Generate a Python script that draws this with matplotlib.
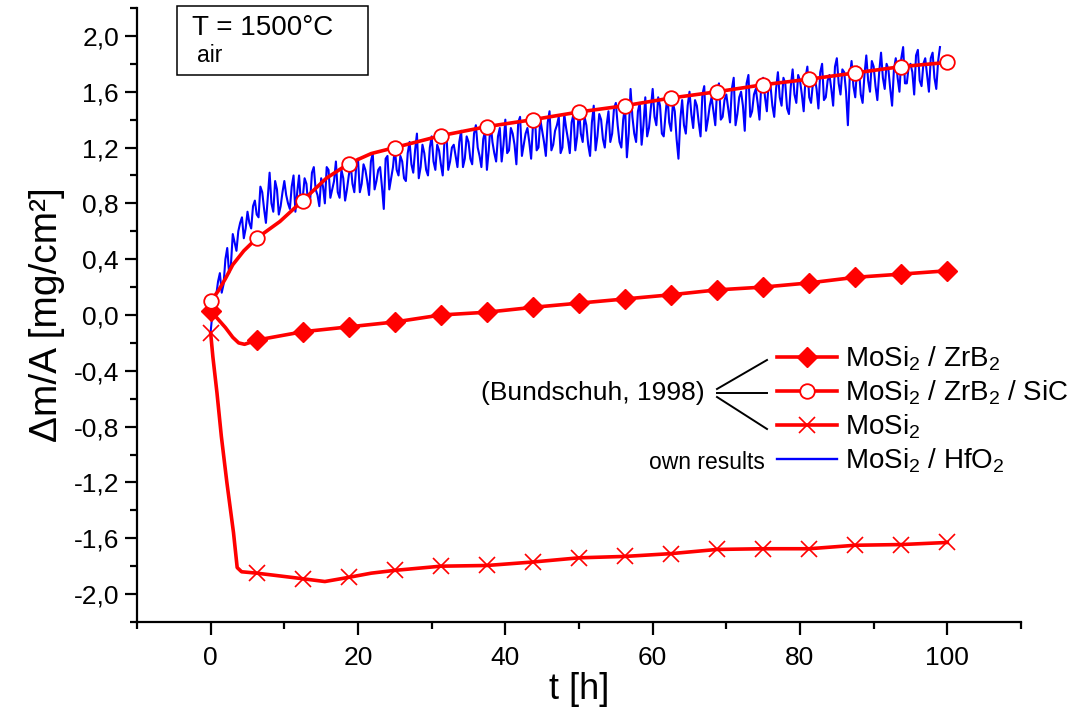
import numpy as np
import matplotlib
matplotlib.use("Agg")
import matplotlib.pyplot as plt
from matplotlib.lines import Line2D
from matplotlib.patches import Rectangle
from matplotlib.ticker import FuncFormatter, FixedLocator

plt.rcParams['font.family'] = ['Liberation Sans', 'DejaVu Sans']
plt.rcParams['mathtext.fontset'] = 'custom'
plt.rcParams['mathtext.rm'] = 'Liberation Sans'
plt.rcParams['mathtext.default'] = 'regular'

# Messpunkte (Bundschuh, 1998) alle 6,25 h
t_mark = [0, 6.25, 12.5, 18.75, 25, 31.25, 37.5, 43.75, 50, 56.25, 62.5, 68.75,
          75, 81.25, 87.5, 93.75, 100]
zrb2_mark = [0.03, -0.18, -0.12, -0.085, -0.05, 0.0, 0.02, 0.055, 0.085, 0.115, 0.145,
             0.18, 0.20, 0.23, 0.27, 0.293, 0.317]
sic_mark = [0.10, 0.55, 0.82, 1.085, 1.20, 1.285, 1.35, 1.40, 1.455, 1.50, 1.555, 1.60,
            1.65, 1.69, 1.735, 1.78, 1.81]
mosi2_mark = [-0.13, -1.85, -1.89, -1.88, -1.83, -1.80, -1.795, -1.77, -1.74, -1.73,
              -1.71, -1.68, -1.675, -1.675, -1.65, -1.645, -1.63]

# Verbindungslinien (mit Zwischenpunkten am Anfang)
t_zrb2_line = [0, 1, 2, 3, 3.8, 4.6, 6.25, 12.5, 18.75, 25, 31.25, 37.5, 43.75, 50,
               56.25, 62.5, 68.75, 75, 81.25, 87.5, 93.75, 100]
zrb2_line = [0.03, -0.03, -0.09, -0.16, -0.20, -0.21, -0.18, -0.12, -0.085, -0.05, 0.0,
             0.02, 0.055, 0.085, 0.115, 0.145, 0.18, 0.20, 0.23, 0.27, 0.293, 0.317]
t_sic_line = [0, 1, 2, 3, 4.5, 6.25, 9.4, 12.5, 15.7, 18.75, 21.8, 25, 31.25, 37.5,
              43.75, 50, 56.25, 62.5, 68.75, 75, 81.25, 87.5, 93.75, 100]
sic_line = [0.10, 0.17, 0.26, 0.36, 0.46, 0.55, 0.67, 0.82, 0.98, 1.085, 1.157, 1.20,
            1.285, 1.35, 1.40, 1.455, 1.50, 1.555, 1.60, 1.65, 1.69, 1.735, 1.78, 1.81]
t_mosi2_line = [0, 0.3, 0.86, 1.45, 2.2, 3.1, 3.6, 4.2, 6.25, 9.4, 12.5, 15.5, 18.75,
                21.8, 25, 31.25, 37.5, 43.75, 50, 56.25, 62.5, 68.75, 75, 81.25, 87.5,
                93.75, 100]
mosi2_line = [-0.13, -0.30, -0.56, -0.87, -1.20, -1.56, -1.81, -1.84, -1.85, -1.87,
              -1.89, -1.91, -1.88, -1.85, -1.83, -1.80, -1.795, -1.77, -1.74, -1.73,
              -1.71, -1.68, -1.675, -1.675, -1.65, -1.645, -1.63]

# eigene Ergebnisse MoSi2 / HfO2: Werte bei 0, 0,5, 1, ... h
t_hfo2_a = [i * 0.5 for i in range(199)]
hfo2_a = [
    -0.12, 0.10, 0.24, 0.16, 0.40, 0.30, 0.58, 0.46, 0.66, 0.55,
    0.74, 0.62, 0.82, 0.70, 0.88, 0.66, 1.02, 0.74, 0.90, 0.78,
    0.96, 0.80, 0.92, 0.74, 1.00, 0.84, 0.94, 0.82, 1.06, 0.86,
    0.98, 0.80, 1.04, 0.90, 1.10, 0.84, 0.98, 0.90, 1.08, 0.88,
    1.12, 0.94, 1.04, 0.86, 1.16, 0.96, 1.06, 0.76, 1.14, 0.98,
    1.20, 1.00, 1.10, 0.96, 1.24, 1.02, 1.30, 1.06, 1.16, 1.00,
    1.28, 1.04, 1.18, 1.00, 1.30, 1.10, 1.22, 1.06, 1.32, 1.12,
    1.24, 1.08, 1.36, 1.14, 1.26, 1.04, 1.38, 1.16, 1.28, 1.10,
    1.40, 1.18, 1.30, 1.08, 1.42, 1.22, 1.34, 1.12, 1.44, 1.20,
    1.32, 1.14, 1.46, 1.22, 1.36, 1.16, 1.44, 1.26, 1.38, 1.18,
    1.48, 1.24, 1.36, 1.14, 1.50, 1.28, 1.40, 1.20, 1.46, 1.30,
    1.52, 1.24, 1.40, 1.13, 1.62, 1.30, 1.46, 1.22, 1.56, 1.34,
    1.62, 1.36, 1.50, 1.28, 1.58, 1.32, 1.46, 1.12, 1.54, 1.30,
    1.60, 1.34, 1.50, 1.28, 1.64, 1.40, 1.56, 1.36, 1.66, 1.42,
    1.58, 1.38, 1.70, 1.44, 1.60, 1.32, 1.72, 1.46, 1.62, 1.40,
    1.70, 1.46, 1.64, 1.42, 1.74, 1.50, 1.66, 1.44, 1.76, 1.52,
    1.68, 1.46, 1.78, 1.52, 1.70, 1.48, 1.80, 1.56, 1.72, 1.50,
    1.84, 1.58, 1.74, 1.36, 1.82, 1.56, 1.76, 1.52, 1.86, 1.60,
    1.78, 1.54, 1.88, 1.62, 1.76, 1.50, 1.84, 1.60, 1.92, 1.66,
    1.80, 1.58, 1.90, 1.64, 1.84, 1.60, 1.88, 1.62, 1.92,
]
# ... und dazwischen bei 0,25, 0,75, ... h
t_hfo2_b = [0.25 + i * 0.5 for i in range(198)]
hfo2_b = [
    0.02, 0.14, 0.30, 0.22, 0.48, 0.36, 0.52, 0.60, 0.70, 0.62,
    0.66, 0.78, 0.72, 0.92, 0.76, 0.84, 0.80, 0.96, 0.72, 0.88,
    0.86, 0.76, 1.00, 0.88, 0.80, 0.98, 0.78, 1.02, 0.90, 0.78,
    0.92, 1.06, 0.84, 0.96, 0.88, 1.04, 0.82, 1.00, 0.94, 1.06,
    0.88, 1.08, 0.96, 1.10, 0.90, 1.04, 0.92, 1.12, 0.90, 1.06,
    1.04, 1.14, 0.98, 1.16, 1.08, 1.18, 0.98, 1.22, 1.04, 1.20,
    1.10, 1.22, 1.08, 1.26, 1.04, 1.20, 1.14, 1.24, 1.06, 1.28,
    1.12, 1.30, 1.20, 1.06, 1.32, 1.18, 1.24, 1.10, 1.34, 1.22,
    1.16, 1.34, 1.22, 1.38, 1.14, 1.30, 1.24, 1.36, 1.18, 1.40,
    1.24, 1.38, 1.18, 1.32, 1.42, 1.20, 1.34, 1.16, 1.44, 1.28,
    1.30, 1.42, 1.22, 1.38, 1.18, 1.44, 1.26, 1.36, 1.24, 1.48,
    1.36, 1.20, 1.50, 1.30, 1.42, 1.24, 1.52, 1.36, 1.28, 1.48,
    1.42, 1.56, 1.30, 1.44, 1.38, 1.52, 1.26, 1.40, 1.36, 1.50,
    1.44, 1.54, 1.38, 1.58, 1.32, 1.50, 1.46, 1.62, 1.40, 1.54,
    1.48, 1.62, 1.36, 1.56, 1.50, 1.66, 1.42, 1.58, 1.52, 1.66,
    1.56, 1.68, 1.50, 1.62, 1.56, 1.70, 1.48, 1.64, 1.58, 1.72,
    1.58, 1.70, 1.56, 1.66, 1.62, 1.74, 1.54, 1.68, 1.62, 1.78,
    1.66, 1.76, 1.60, 1.70, 1.64, 1.78, 1.58, 1.72, 1.68, 1.82,
    1.64, 1.74, 1.70, 1.80, 1.62, 1.76, 1.70, 1.84, 1.66, 1.78,
    1.74, 1.86, 1.68, 1.80, 1.72, 1.84, 1.70, 1.82,
]

labels = ['MoSi$_2$ / ZrB$_2$', 'MoSi$_2$ / ZrB$_2$ / SiC', 'MoSi$_2$', 'MoSi$_2$ / HfO$_2$']

t_hfo2 = np.array(t_hfo2_a + t_hfo2_b)
hfo2 = np.array(hfo2_a + hfo2_b)
order = np.argsort(t_hfo2)
t_hfo2, hfo2 = t_hfo2[order], hfo2[order]

W, H = 1073, 724
fig = plt.figure(figsize=(W / 100, H / 100), dpi=100)
ax = fig.add_axes([137 / W, 1 - 622 / H, (1021 - 137) / W, (622 - 8) / H])

red = '#ff0000'
blue = '#0000ff'
lw = 2.6


def komma(v, pos):
    v = round(v, 1)
    if v == 0:
        v = 0.0
    return f'{v:.1f}'.replace('.', ',')


ax.plot(t_hfo2, hfo2, color=blue, lw=1.5, zorder=2)
ax.plot(t_zrb2_line, zrb2_line, color=red, lw=lw, zorder=3)
ax.plot(t_sic_line, sic_line, color=red, lw=lw, zorder=3)
ax.plot(t_mosi2_line, mosi2_line, color=red, lw=lw, zorder=3)
ax.plot(t_mark, zrb2_mark, ls='none', marker='D', ms=10.5, color=red, zorder=4)
ax.plot(t_mark, sic_mark, ls='none', marker='o', ms=10.5, mfc='white', mec=red,
        mew=1.3, zorder=4)
ax.plot(t_mark, mosi2_mark, ls='none', marker='x', ms=11, mec=red, mew=1.2, zorder=4)

ax.set_xlim(-10, 110)
ax.set_ylim(-2.2, 2.2)
ax.set_xticks([0, 20, 40, 60, 80, 100])
ax.xaxis.set_minor_locator(FixedLocator([-10, 10, 30, 50, 70, 90, 110]))
ax.set_yticks(np.round(np.arange(-2.0, 2.01, 0.4), 1))
ax.yaxis.set_minor_locator(FixedLocator(np.round(np.arange(-2.2, 2.21, 0.4), 1)))
ax.yaxis.set_major_formatter(FuncFormatter(komma))

for s in ['top', 'right']:
    ax.spines[s].set_visible(False)
for s in ['left', 'bottom']:
    ax.spines[s].set_linewidth(1.6)
ax.tick_params(which='major', direction='out', length=9, width=1.6)
ax.tick_params(which='minor', direction='out', length=5, width=1.6)
ax.tick_params(axis='y', labelsize=19, pad=4)
ax.tick_params(axis='x', labelsize=19, pad=8)

ax.set_xlabel('t [h]', fontsize=26, labelpad=2)
ax.set_ylabel('Δm/A [mg/cm²]', fontsize=28, labelpad=6)

# Legende
handles = [
    Line2D([], [], color=red, lw=lw, marker='D', ms=10.5),
    Line2D([], [], color=red, lw=lw, marker='o', ms=10.5, mfc='white', mec=red, mew=1.3),
    Line2D([], [], color=red, lw=lw, marker='x', ms=11, mew=1.2),
    Line2D([], [], color=blue, lw=1.7),
]
ax.legend(handles, labels, loc='center left', bbox_to_anchor=(777 / W, 1 - 410 / H),
          bbox_transform=fig.transFigure, frameon=False, fontsize=20,
          handlelength=2.15, handletextpad=0.3, labelspacing=0.2,
          borderpad=0, borderaxespad=0)

fig.text(705 / W, 1 - 393 / H, '(Bundschuh, 1998)', fontsize=19, ha='right', va='center')
fig.text(765 / W, 1 - 463 / H, 'own results', fontsize=16.5, ha='right', va='center')
for y0, y1 in [(389, 360), (393, 393), (397, 429)]:
    fig.add_artist(Line2D([717 / W, 767 / W], [1 - y0 / H, 1 - y1 / H],
                          color='black', lw=1.4, transform=fig.transFigure))

# Textbox
fig.add_artist(Rectangle((177 / W, 1 - 75 / H), (368 - 177) / W, (75 - 6) / H,
                         transform=fig.transFigure, fill=False, ec='black', lw=1.1))
fig.text(192 / W, 1 - 28 / H, 'T = 1500°C', fontsize=20, ha='left', va='center')
fig.text(197 / W, 1 - 56 / H, 'air', fontsize=16.5, ha='left', va='center')

fig.savefig('out.png', dpi=100)
